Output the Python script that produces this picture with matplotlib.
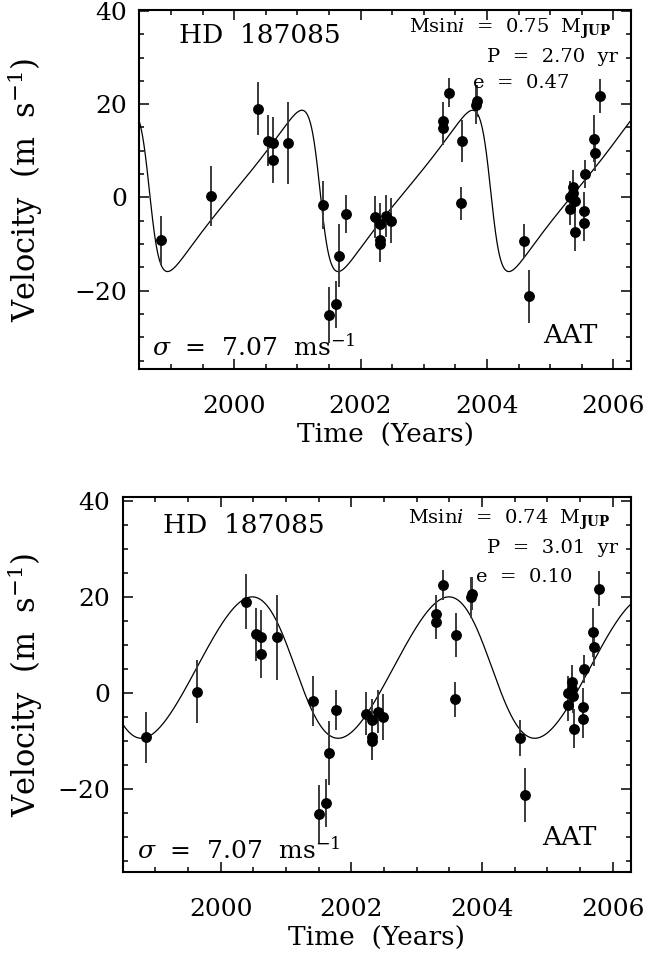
import numpy as np
import matplotlib
matplotlib.use("Agg")
import matplotlib.pyplot as plt
from matplotlib.ticker import MultipleLocator

plt.rcParams['font.family'] = ['DejaVu Serif', 'DejaVu Sans']
plt.rcParams['mathtext.fontset'] = 'dejavuserif'

# ---- data ----
time = [1998.85, 1999.63, 2000.38, 2000.54, 2000.62, 2000.62, 2000.86,
        2001.41, 2001.50, 2001.61, 2001.66, 2001.77,
        2002.23, 2002.31, 2002.31, 2002.31, 2002.40, 2002.49,
        2003.30, 2003.30, 2003.40, 2003.59, 2003.60, 2003.83, 2003.84,
        2004.58, 2004.66,
        2005.31, 2005.31, 2005.37, 2005.37, 2005.39, 2005.40,
        2005.54, 2005.54, 2005.56, 2005.70, 2005.71, 2005.79]
velocity = [-9.2, 0.3, 19.0, 12.2, 11.7, 8.1, 11.6,
            -1.6, -25.2, -22.9, -12.5, -3.5,
            -4.3, -5.7, -9.2, -9.9, -3.9, -5.0,
            16.4, 14.8, 22.5, -1.3, 12.1, 19.9, 20.7,
            -9.3, -21.2,
            0.0, -2.4, 2.3, 0.9, -0.7, -7.4,
            -2.9, -5.4, 5.0, 12.6, 9.6, 21.7]
error = [5.3, 6.5, 5.7, 5.5, 5.5, 5.0, 8.8,
         5.2, 6.0, 5.0, 6.7, 4.1,
         4.5, 4.5, 4.5, 4.0, 4.5, 4.8,
         4.0, 3.5, 3.1, 3.6, 4.5, 4.2, 3.5,
         3.7, 5.7,
         3.5, 3.5, 3.5, 3.5, 3.5, 4.0,
         4.0, 4.0, 3.0, 5.0, 4.0, 3.6]

star_name = "HD  187085"
telescope = "AAT"
rms_text = "7.07"

# Keplerian fit parameters for the two panels
msini = ["0.75", "0.74"]
period = [2.70, 3.01]
ecc = [0.47, 0.10]
semi_amp = [17.3, 14.7]
gamma = [1.4, 5.3]
omega_deg = [90.0, 90.0]
t_peri = [2001.36, 2001.14]

x_ticks = [2000, 2002, 2004, 2006]
y_ticks = [-20, 0, 20, 40]
y_ticklabels = ['\u221220', '0', '20', '40']


def keplerian(t, P, e, K, g, w_deg, tp):
    M = 2 * np.pi * (t - tp) / P
    E = M.copy()
    for _ in range(60):
        E = E - (E - e * np.sin(E) - M) / (1 - e * np.cos(E))
    nu = 2 * np.arctan2(np.sqrt(1 + e) * np.sin(E / 2), np.sqrt(1 - e) * np.cos(E / 2))
    w = np.radians(w_deg)
    return K * (np.cos(nu + w) + e * np.cos(w)) + g


W, H = 646, 956
fig = plt.figure(figsize=(W / 100, H / 100), dpi=100)

# panel pixel boxes: left, right, top, bottom
boxes = [(139.3, 631, 10, 369), (122.7, 631, 497.3, 872)]
ylims = [(-36.8, 40.2), (-37.2, 40.7)]
# text placements (axes coords)
txt = [
    dict(hd=(0.081, 0.930), sig=(0.026, 0.061), aat=(0.931, 0.092),
         ms=(0.959, 0.947), p=(0.973, 0.869), e=(0.678, 0.797)),
    dict(hd=(0.079, 0.926), sig=(0.028, 0.059), aat=(0.933, 0.091),
         ms=(0.959, 0.939), p=(0.975, 0.865), e=(0.695, 0.787)),
]

for i, (l, r, t, b) in enumerate(boxes):
    ax = fig.add_axes([l / W, 1 - b / H, (r - l) / W, (b - t) / H])
    ax.set_xlim(1998.5, 2006.28)
    ax.set_ylim(*ylims[i])

    tt = np.linspace(1998.5, 2006.28, 2000)
    ax.plot(tt, keplerian(tt, period[i], ecc[i], semi_amp[i], gamma[i],
                          omega_deg[i], t_peri[i]), color='black', lw=0.9)
    ax.errorbar(time, velocity, yerr=error, fmt='o', color='black',
                ecolor='#3a3a3a', elinewidth=1.4, ms=6.8, capsize=0, zorder=3)

    ax.set_xticks(x_ticks)
    ax.set_yticks(y_ticks)
    ax.set_yticklabels(y_ticklabels)
    ax.xaxis.set_minor_locator(MultipleLocator(0.5))
    ax.yaxis.set_minor_locator(MultipleLocator(5))
    ax.tick_params(which='both', direction='in', top=True, right=True, width=1.1)
    ax.tick_params(which='major', length=7)
    ax.tick_params(which='minor', length=3.5)
    ax.tick_params(axis='x', labelsize=18, pad=19)
    ax.tick_params(axis='y', labelsize=18, pad=9)
    for s in ax.spines.values():
        s.set_linewidth(1.5)

    d = txt[i]
    ax.text(*d['hd'], star_name, transform=ax.transAxes, fontsize=19,
            ha='left', va='center')
    ax.text(*d['sig'], r"$\sigma$  =  " + rms_text + r"  ms$^{-1}$",
            transform=ax.transAxes, fontsize=18, ha='left', va='center')
    ax.text(*d['aat'], telescope, transform=ax.transAxes, fontsize=19,
            ha='right', va='center')
    ax.text(*d['ms'], r"Msin$i$  =  " + msini[i] + r"  M$_{\mathbf{JUP}}$",
            transform=ax.transAxes, fontsize=14, ha='right', va='center')
    ax.text(*d['p'], "P  =  %.2f  yr" % period[i], transform=ax.transAxes,
            fontsize=14, ha='right', va='center')
    ax.text(*d['e'], "e  =  %.2f" % ecc[i], transform=ax.transAxes,
            fontsize=14, ha='left', va='center')

    ax.text(0.5, -66 / (b - t), "Time  (Years)", transform=ax.transAxes,
            fontsize=19, ha='center', va='center')
    fig.text(25 / W, 1 - (t + b) / 2 / H, r"Velocity  (m  s$^{-1}$)", rotation=90,
             fontsize=22, ha='center', va='center')

fig.savefig("out.png", dpi=100)
